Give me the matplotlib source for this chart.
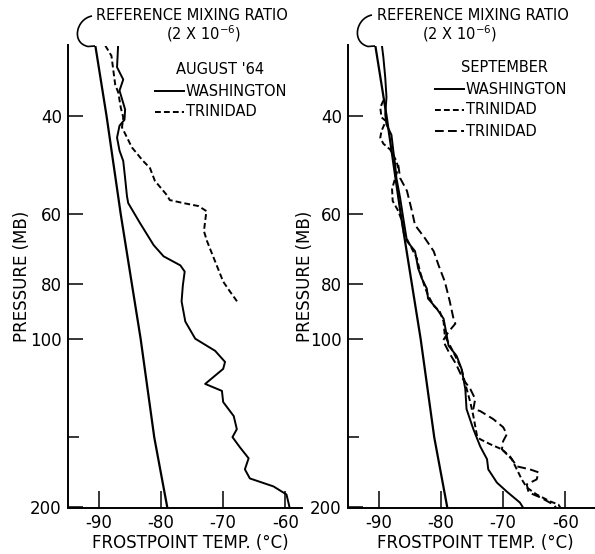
import matplotlib
matplotlib.use('Agg')
import matplotlib.pyplot as plt
import matplotlib.patches as patches
from matplotlib.path import Path
from matplotlib.lines import Line2D

plt.rcParams['font.family'] = 'DejaVu Sans'
plt.rcParams['axes.unicode_minus'] = False
plt.rcParams['mathtext.default'] = 'regular'

W, H = 595, 554

# reference mixing ratio (2 x 10^-6) frostpoint line
ref_p = [30, 40, 60, 80, 100, 150, 200]
ref_t = [-90.6, -88.8, -86.5, -84.7, -83.3, -81.1, -79.0]

# August '64
aug_wash_p = [29.6, 32.8, 34.5, 36.1, 39.0, 40.7, 41.7, 43.8, 46.2, 48.2,
              51.7, 55.7, 57.3, 62.2, 68.1, 71.3, 74.0, 75.9, 80.4, 85.8,
              93.2, 100, 105.1, 110.0, 113.2, 120.4, 123.9, 129.7, 137.4, 145.0,
              149.8, 156.2, 163.4, 171.0, 177.5, 183.4, 189.6, 200]
aug_wash_t = [-86.9, -87.1, -86.1, -86.7, -85.8, -85.9, -86.7, -87.1, -86.7, -86.1,
              -85.8, -85.5, -85.3, -83.4, -81.2, -79.6, -76.9, -76.2, -76.5, -76.7,
              -76.1, -74.5, -71.3, -69.7, -70.0, -72.9, -70.2, -70.0, -68.3, -67.8,
              -68.5, -67.3, -65.9, -66.5, -65.7, -61.9, -59.8, -59.3]

aug_trin_p = [30.0, 31.3, 33.2, 35.2, 36.4, 38.7, 40.3, 42.0, 45.6, 48.2,
              49.6, 52.3, 55.4, 56.6, 57.3, 58.0, 59.2, 64.3, 67.0, 72.8,
              79.1, 82.4, 86.6]
aug_trin_t = [-89.0, -88.0, -87.7, -87.4, -86.9, -86.5, -86.1, -86.3, -84.7, -82.9,
              -81.8, -81.0, -79.1, -78.6, -76.4, -74.0, -72.7, -73.1, -72.6, -71.3,
              -70.0, -68.9, -67.5]

# September
sep_wash_p = [29.6, 31.5, 34.2, 37.1, 39.8, 41.5, 43.3, 46.2, 49.0, 51.7,
              56.1, 60.9, 67.0, 69.8, 74.9, 78.1, 81.4, 84.8, 88.4, 92.1,
              97.2, 102.9, 107.3, 113.2, 122.9, 133.5, 145.0, 155.6, 164.0, 171.0,
              180.6, 187.4, 196.0, 200]
sep_wash_t = [-89.6, -89.3, -89.0, -88.8, -89.0, -88.8, -88.0, -87.7, -87.4, -87.2,
              -86.6, -86.1, -85.5, -84.2, -83.7, -83.1, -82.3, -82.1, -80.7, -79.6,
              -79.2, -78.8, -77.5, -76.7, -76.1, -75.9, -74.8, -73.7, -72.6, -72.4,
              -71.0, -69.4, -67.3, -66.8]

sep_trin1_p = [37.6, 38.7, 40.3, 40.9, 42.6, 43.8, 44.9, 46.0, 48.2, 49.6,
               51.7, 54.1, 56.8, 59.2, 61.7, 64.8, 68.1, 71.9, 75.9, 80.4,
               83.7, 87.3, 89.5, 93.2, 98.8, 104.2, 108.6, 113.2, 120.4, 129.7,
               137.4, 149.2, 151.1, 154.2, 157.5, 164.1, 171.0, 178.2, 184.2, 189.6,
               195.1, 197.6, 200]
sep_trin1_t = [-89.3, -89.8, -89.6, -88.9, -89.6, -89.8, -89.3, -88.2, -87.2, -86.9,
               -87.4, -87.9, -87.8, -86.9, -86.3, -86.0, -85.0, -83.9, -83.4, -82.7,
               -82.1, -81.2, -80.2, -79.6, -79.4, -78.3, -77.5, -76.7, -76.1, -75.3,
               -74.8, -74.2, -73.7, -72.1, -70.2, -68.6, -67.8, -67.0, -66.2, -64.6,
               -62.4, -61.1, -60.8]

sep_trin2_p = [49.0, 51.7, 54.5, 59.2, 62.7, 66.2, 69.8, 74.0, 79.1, 85.8,
               93.2, 94.0, 97.2, 100.8, 106.4, 110.9, 117.9, 122.9, 128.1, 133.5,
               134.6, 139.1, 143.8, 148.0, 152.3, 157.5, 162.1, 168.9, 171.0, 173.1,
               178.2, 181.9, 188.0, 191.9, 197.6, 200]
sep_trin2_t = [-86.9, -86.6, -85.5, -84.7, -84.2, -82.6, -81.2, -80.4, -79.4, -78.6,
               -77.9, -77.7, -78.8, -79.7, -78.6, -77.6, -76.5, -75.3, -74.5, -74.8,
               -73.7, -71.6, -70.0, -69.4, -70.0, -70.2, -68.9, -67.8, -65.7, -64.3,
               -64.6, -66.2, -65.9, -64.0, -61.9, -61.5]

p_ticks = [40, 60, 80, 100, 200]
t_ticks = [-90, -80, -70, -60]

SHORT = (3, 1.6)
LONG = (4.5, 2.2)
LW = 1.4


def fig_xy(x, y):
    # pixel position (origin top left) -> figure fraction
    return x / W, 1 - y / H


def style_axes(ax, xmax, ylab_x, xlab_x):
    ax.set_yscale('log')
    ax.set_ylim(200, 30)
    ax.set_xlim(-95, xmax)
    ax.spines[['top', 'right']].set_visible(False)
    ax.spines[['left', 'bottom']].set_linewidth(1.4)
    ax.set_yticks(p_ticks, labels=[str(p) for p in p_ticks])
    ax.minorticks_off()
    ax.set_yticks([150], labels=[''], minor=True)
    ax.set_xticks(t_ticks, labels=[str(t) for t in t_ticks])
    ax.tick_params(axis='y', which='major', direction='in', length=11, width=1.1,
                   labelsize=12, pad=4.5)
    ax.tick_params(axis='y', which='minor', direction='in', length=8, width=1.1)
    ax.tick_params(axis='x', direction='in', length=12.5, width=1.1,
                   labelsize=12, pad=4.5)
    ax.set_ylabel('PRESSURE (MB)', fontsize=12)
    ax.set_xlabel('FROSTPOINT TEMP. (°C)', fontsize=12)
    ax.yaxis.set_label_coords(ylab_x, 0.5)
    ax.xaxis.set_label_coords(xlab_x, -0.058)


def ref_label(x_left, x_mid, hook):
    fig.text(*fig_xy(x_left, 15), 'REFERENCE MIXING RATIO', fontsize=10.5,
             ha='left', va='center')
    fig.text(*fig_xy(x_mid, 34), '(2 X 10$^{-6}$)', fontsize=10.5,
             ha='center', va='center')
    verts = [fig_xy(*v) for v in hook]
    codes = [Path.MOVETO, Path.CURVE4, Path.CURVE4, Path.CURVE4, Path.LINETO]
    fig.add_artist(patches.PathPatch(Path(verts, codes), facecolor='none',
                                     edgecolor='black', linewidth=1.2,
                                     transform=fig.transFigure))


def key(x0, y, title, title_x, rows):
    fig.text(*fig_xy(title_x, y), title, fontsize=10.5, ha='center', va='center')
    for i, (label, dashes) in enumerate(rows):
        yy = y + 21 * (i + 1)
        line = Line2D([x0 / W, (x0 + 29) / W], [1 - yy / H, 1 - yy / H],
                      color='black', linewidth=LW, transform=fig.transFigure)
        if dashes:
            line.set_dashes(dashes)
        fig.add_artist(line)
        fig.text(*fig_xy(x0 + 31, yy), label, fontsize=10.5, ha='left', va='center')


fig = plt.figure(figsize=(W / 100, H / 100), dpi=100)
ax1 = fig.add_axes([68 / W, 46.5 / H, 234 / W, 462 / H])
ax2 = fig.add_axes([348 / W, 46.5 / H, 247 / W, 462 / H])

style_axes(ax1, -57.3, -0.158, (190 - 68) / 234)
style_axes(ax2, -55.2, -0.138, (475 - 348) / 247)

for ax in (ax1, ax2):
    ax.plot(ref_t, ref_p, color='black', linewidth=1.6)

ax1.plot(aug_wash_t, aug_wash_p, color='black', linewidth=LW)
ax1.plot(aug_trin_t, aug_trin_p, color='black', linewidth=LW, dashes=SHORT)

ax2.plot(sep_wash_t, sep_wash_p, color='black', linewidth=LW)
ax2.plot(sep_trin1_t, sep_trin1_p, color='black', linewidth=LW, dashes=SHORT)
ax2.plot(sep_trin2_t, sep_trin2_p, color='black', linewidth=LW, dashes=LONG)

ref_label(96, 204, [(92, 16), (76, 19), (71, 43), (88, 46.5), (95, 46)])
ref_label(377, 460, [(372, 15), (356, 18), (351, 42), (368, 46.5), (375, 46)])

key(155, 70, "AUGUST '64", 220,
    [('WASHINGTON', None), ('TRINIDAD', SHORT)])
key(435, 68, 'SEPTEMBER', 505,
    [('WASHINGTON', None), ('TRINIDAD', SHORT), ('TRINIDAD', LONG)])

fig.savefig('out.png', dpi=100)
